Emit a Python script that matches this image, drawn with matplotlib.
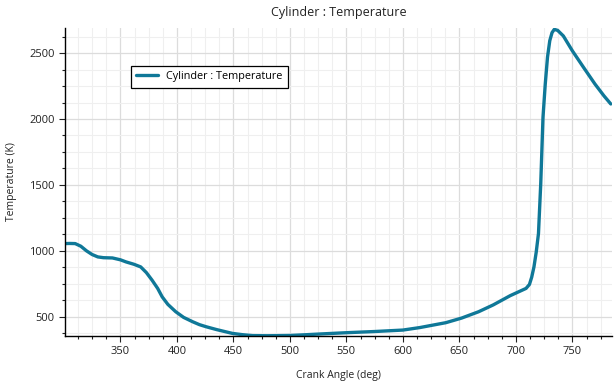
import matplotlib.pyplot as plt
from matplotlib.ticker import MultipleLocator

# crank angle (deg) and cylinder temperature (K)
crank_angle = [301, 305, 310, 315, 320, 325, 330, 335, 343, 350, 355, 362, 368,
               373, 378, 383, 387, 392, 399, 406, 414, 420, 426, 435, 449, 458,
               467, 480, 490, 500, 515, 526, 550, 575, 600, 615, 638, 652, 667,
               680, 695, 709, 712, 714, 716, 718, 720, 722, 724, 726, 728, 730,
               732, 734, 737, 742, 750, 760, 770, 778, 784]
temperature = [1055, 1056, 1055, 1035, 1000, 972, 954, 948, 946, 932, 916, 898, 878,
               835, 778, 715, 651, 594, 538, 495, 462, 440, 424, 403, 374, 364,
               357, 356, 357, 358, 364, 369, 379, 388, 399, 418, 455, 490, 538,
               590, 660, 715, 745, 800, 878, 990, 1131, 1509, 2013, 2265, 2470, 2594,
               2655, 2680, 2672, 2630, 2517, 2390, 2265, 2175, 2114]

series_label = 'Cylinder : Temperature'
title = 'Cylinder : Temperature'
x_label = 'Crank Angle (deg)'
y_label = 'Temperature (K)'

LINE_COLOR = '#0f7898'

plt.rcParams['font.family'] = ['Open Sans', 'DejaVu Sans']

fig = plt.figure(figsize=(6.15, 3.84), dpi=100)
ax = fig.add_axes([0.1057, 0.125, 0.8893, 0.802])

ax.plot(crank_angle, temperature, color=LINE_COLOR, linewidth=2.4,
        solid_capstyle='round', solid_joinstyle='round', label=series_label)

ax.set_xlim(301, 785)
ax.set_ylim(354, 2690)
ax.xaxis.set_major_locator(MultipleLocator(50))
ax.xaxis.set_minor_locator(MultipleLocator(12.5))
ax.yaxis.set_major_locator(MultipleLocator(500))
ax.yaxis.set_minor_locator(MultipleLocator(125))

ax.grid(True, which='major', color='#dcdcdc', linewidth=0.9)
ax.grid(True, which='minor', color='#efefef', linewidth=0.8)
ax.set_axisbelow(True)

for side in ('top', 'right'):
    ax.spines[side].set_visible(False)
for side in ('left', 'bottom'):
    ax.spines[side].set_color('black')
    ax.spines[side].set_linewidth(1.0)

ax.tick_params(which='major', direction='out', length=4, width=0.8,
               labelsize=8, colors='#222222')
ax.tick_params(which='minor', direction='out', length=2.5, width=0.8,
               colors='#222222')

ax.set_title(title, fontsize=9, color='#222222', pad=9)
ax.set_xlabel(x_label, fontsize=7.5, color='#222222', labelpad=9)
ax.set_ylabel(y_label, fontsize=7.5, color='#222222', labelpad=9)

leg = ax.legend(loc='upper left', bbox_to_anchor=(0.11, 0.895), fontsize=7.8,
                fancybox=False, framealpha=1, edgecolor='black',
                handlelength=2.0, borderpad=0.5)
leg.get_frame().set_linewidth(0.9)

fig.savefig('out.png', dpi=100)
